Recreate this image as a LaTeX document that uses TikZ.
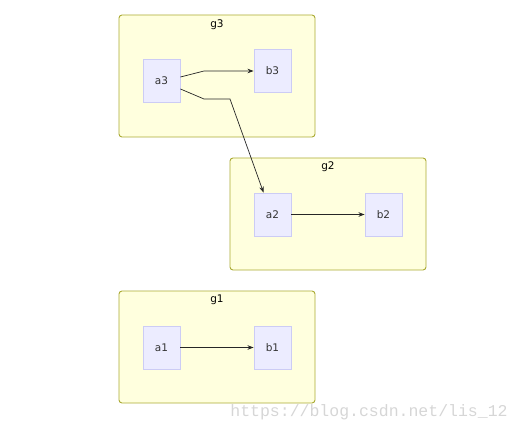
\documentclass[tikz,border=0pt]{standalone}
\usepackage{fontspec}
\setmainfont{DejaVu Sans}
\newfontfamily\markfont{Liberation Mono}
\usetikzlibrary{arrows.meta}
\definecolor{clusterfill}{HTML}{FFFFDE}
\definecolor{clusterline}{HTML}{AAAA33}
\definecolor{itemfill}{HTML}{ECECFF}
\definecolor{itemline}{HTML}{CCCCF5}
\definecolor{itemtext}{HTML}{333333}
\begin{document}
\begin{tikzpicture}[x=1pt, y=-1pt, font=\fontsize{10.5}{12}\selectfont,
group box/.style={draw=clusterline, fill=clusterfill, line width=0.9pt, rounded corners=3pt},
group title/.style={text=black},
item node/.style={rectangle, draw=itemline, fill=itemfill, line width=0.9pt, text=itemtext, minimum width=37pt, minimum height=43pt, inner sep=0pt},
link/.style={-{Stealth[length=6pt,width=4.5pt]}, line width=0.7pt, draw=black!85}]
\useasboundingbox (0,0) rectangle (520,433);
% groups
\draw[group box] (119,15) rectangle (315,137);
\node[group title] (g3) at (217,25) {g3};
\draw[group box] (230,158) rectangle (426,270);
\node[group title] (g2) at (328,167) {g2};
\draw[group box] (119,291) rectangle (315,403);
\node[group title] (g1) at (217,300) {g1};
\begin{scope}[every node/.style={item node}]
\node (a3) at (161.5,81) {a3};
\node (b3) at (272.5,71) {b3};
\node (a2) at (272.5,214.5) {a2};
\node (b2) at (383.5,214.5) {b2};
\node (a1) at (161.5,347.5) {a1};
\node (b1) at (272.5,347.5) {b1};
\end{scope}
\begin{scope}
\draw[link] ([yshift=4pt]a3.east) -- (204,71) -- (b3.west);
\draw[link] ([yshift=-8pt]a3.east) -- (204,99) -- (230,99) -- ([xshift=-9pt]a2.north);
\draw[link] (a2) -- (b2);
\draw[link] (a1) -- (b1);
\end{scope}
\node[text=black!16, font=\markfont\fontsize{16.5}{16.5}\selectfont] (mark) at (369,412) {https://blog.csdn.net/lis\_12};
\end{tikzpicture}
\end{document}
